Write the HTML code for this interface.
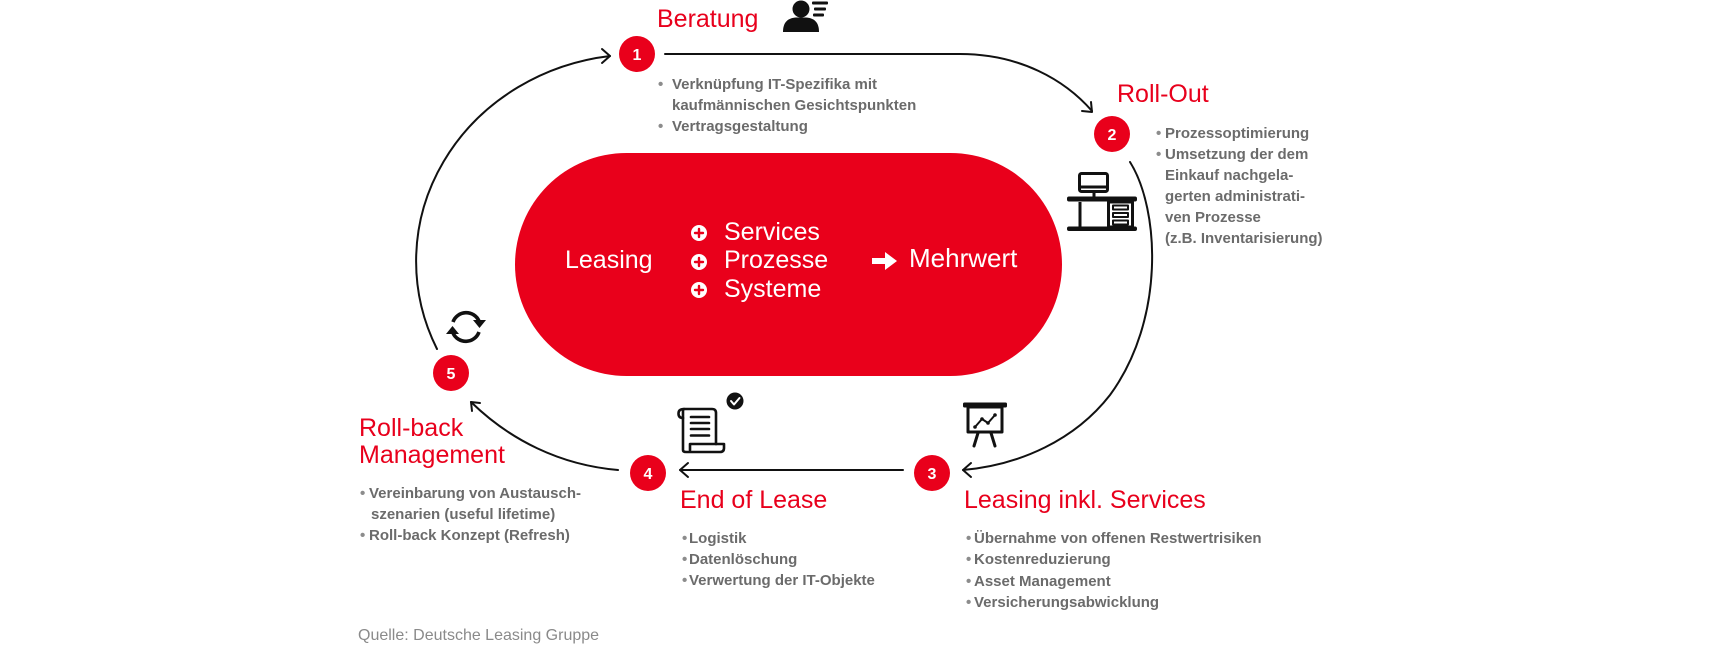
<!DOCTYPE html>
<html>
<head>
<meta charset="utf-8">
<style>
  html, body { margin: 0; padding: 0; background: #ffffff; }
  body { width: 1712px; height: 657px; overflow: hidden; }
  svg { display: block; }
  text { font-family: "Liberation Sans", "DejaVu Sans", sans-serif; }
  .h { fill: #e8001c; font-size: 25px; }
  .b { fill: #6b6b6b; font-size: 15px; font-weight: bold; }
  .dot { fill: #8c8c8c; font-size: 15px; font-weight: bold; }
  .w { fill: #ffffff; font-size: 25px; }
  .n { fill: #ffffff; font-size: 16px; font-weight: bold; }
</style>
</head>
<body>
<svg width="1712" height="657" viewBox="0 0 1712 657" xmlns="http://www.w3.org/2000/svg">
  <rect width="1712" height="657" fill="#ffffff"/>

  <!-- central pill -->
  <rect x="515" y="153" width="547" height="223" rx="111.5" ry="111.5" fill="#e9001b"/>

  <!-- connectors -->
  <g fill="none" stroke="#111" stroke-width="2" stroke-linecap="round" stroke-linejoin="round">
    <!-- 1 -> 2 -->
    <path d="M 665 54 L 960 54 C 1020 54, 1065 80, 1092 111"/>
    <path d="M 1082 111 L 1092 112 L 1091 102"/>
    <!-- 2 -> 3 -->
    <path d="M 1130 162 C 1160 210, 1165 320, 1110 395 C 1075 440, 1020 465, 963 470"/>
    <path d="M 971 463 L 963 470 L 971 477"/>
    <!-- 3 -> 4 -->
    <path d="M 903 470 L 680 470"/>
    <path d="M 688 463 L 680 470 L 688 477"/>
    <!-- 4 -> 5 -->
    <path d="M 618 470 C 560 465, 510 440, 471 402"/>
    <path d="M 480 403 L 471 402 L 472 411"/>
    <!-- 5 -> 1 -->
    <path d="M 437 349 A 222 207 0 0 1 610 56"/>
    <path d="M 602 49 L 610 56 L 602 63"/>
  </g>

  <!-- numbered circles -->
  <g fill="#e9001b">
    <circle cx="637" cy="54" r="18"/>
    <circle cx="1112" cy="134" r="18"/>
    <circle cx="932" cy="473" r="18"/>
    <circle cx="648" cy="473" r="18"/>
    <circle cx="451" cy="373" r="18"/>
  </g>
  <g class="n" text-anchor="middle">
    <text x="637" y="60" class="n">1</text>
    <text x="1112" y="140" class="n">2</text>
    <text x="932" y="479" class="n">3</text>
    <text x="648" y="479" class="n">4</text>
    <text x="451" y="379" class="n">5</text>
  </g>

  <!-- headings -->
  <text x="657" y="27" class="h">Beratung</text>
  <text x="1117" y="102" class="h">Roll-Out</text>
  <text x="964" y="508" class="h">Leasing inkl. Services</text>
  <text x="680" y="508" class="h">End of Lease</text>
  <text x="359" y="436" class="h">Roll-back</text>
  <text x="359" y="463" class="h">Management</text>

  <!-- Beratung bullets -->
  <text x="658" y="89" class="dot">•</text>
  <text x="672" y="89" class="b">Verknüpfung IT-Spezifika mit</text>
  <text x="672" y="110" class="b">kaufmännischen Gesichtspunkten</text>
  <text x="658" y="131" class="dot">•</text>
  <text x="672" y="131" class="b">Vertragsgestaltung</text>

  <!-- Roll-Out bullets -->
  <text x="1156" y="138" class="dot">•</text>
  <text x="1165" y="138" class="b">Prozessoptimierung</text>
  <text x="1156" y="159" class="dot">•</text>
  <text x="1165" y="159" class="b">Umsetzung der dem</text>
  <text x="1165" y="180" class="b">Einkauf nachgela-</text>
  <text x="1165" y="201" class="b">gerten administrati-</text>
  <text x="1165" y="222" class="b">ven Prozesse</text>
  <text x="1165" y="243" class="b">(z.B. Inventarisierung)</text>

  <!-- Leasing inkl. Services bullets -->
  <text x="966" y="543" class="dot">•</text>
  <text x="974" y="543" class="b">Übernahme von offenen Restwertrisiken</text>
  <text x="966" y="564" class="dot">•</text>
  <text x="974" y="564" class="b">Kostenreduzierung</text>
  <text x="966" y="586" class="dot">•</text>
  <text x="974" y="586" class="b">Asset Management</text>
  <text x="966" y="607" class="dot">•</text>
  <text x="974" y="607" class="b">Versicherungsabwicklung</text>

  <!-- End of Lease bullets -->
  <text x="682" y="543" class="dot">•</text>
  <text x="689" y="543" class="b">Logistik</text>
  <text x="682" y="564" class="dot">•</text>
  <text x="689" y="564" class="b">Datenlöschung</text>
  <text x="682" y="585" class="dot">•</text>
  <text x="689" y="585" class="b">Verwertung der IT-Objekte</text>

  <!-- Roll-back bullets -->
  <text x="360" y="498" class="dot">•</text>
  <text x="369" y="498" class="b">Vereinbarung von Austausch-</text>
  <text x="371" y="519" class="b">szenarien (useful lifetime)</text>
  <text x="360" y="540" class="dot">•</text>
  <text x="369" y="540" class="b">Roll-back Konzept (Refresh)</text>

  <!-- source -->
  <text x="358" y="640" style="fill:#8a8a8a;font-size:16px;">Quelle: Deutsche Leasing Gruppe</text>

  <!-- pill contents -->
  <text x="565" y="268" class="w">Leasing</text>
  <g fill="#ffffff">
    <circle cx="699" cy="233" r="8"/>
    <circle cx="699" cy="262" r="8"/>
    <circle cx="699" cy="290" r="8"/>
  </g>
  <g stroke="#e9001b" stroke-width="2.4" stroke-linecap="round">
    <path d="M 695 233 H 703 M 699 229 V 237"/>
    <path d="M 695 262 H 703 M 699 258 V 266"/>
    <path d="M 695 290 H 703 M 699 286 V 294"/>
  </g>
  <text x="724" y="240" class="w">Services</text>
  <text x="724" y="268" class="w">Prozesse</text>
  <text x="724" y="297" class="w">Systeme</text>
  <path d="M 872 258 H 885 V 252 L 897 261 L 885 270 V 264 H 872 Z" fill="#ffffff"/>
  <text x="909" y="267" class="w" style="font-size:26px;">Mehrwert</text>

  <!-- icon: person (Beratung) -->
  <g fill="#111">
    <circle cx="801" cy="9" r="8.5"/>
    <path d="M 783 32 C 783 22, 788 18, 796 17.5 L 806 17.5 C 814 18, 819 22, 819 32 Z"/>
    <rect x="812" y="1.5" width="16" height="3" rx="1"/>
    <rect x="814" y="7.5" width="12" height="3" rx="1"/>
    <rect x="813" y="13.5" width="11" height="3" rx="1"/>
  </g>

  <!-- icon: desk (Roll-Out) -->
  <g fill="none" stroke="#111" stroke-width="3" stroke-linejoin="round">
    <rect x="1079.5" y="173.5" width="28" height="18" rx="2"/>
    <line x1="1080" y1="187" x2="1107" y2="187"/>
    <line x1="1094" y1="192" x2="1094" y2="197"/>
    <line x1="1080" y1="202" x2="1080" y2="228"/>
    <rect x="1108.5" y="202" width="24" height="25"/>
    <rect x="1113" y="205.5" width="15" height="4" stroke-width="2"/>
    <rect x="1113" y="213" width="15" height="4" stroke-width="2"/>
    <rect x="1113" y="220.5" width="15" height="4" stroke-width="2"/>
  </g>
  <g fill="#111">
    <rect x="1067" y="196.5" width="70" height="5" rx="2"/>
    <rect x="1067" y="226.5" width="70" height="4.5" rx="2"/>
  </g>

  <!-- icon: presentation board (Leasing inkl. Services) -->
  <g fill="none" stroke="#111" stroke-width="3" stroke-linejoin="round" stroke-linecap="round">
    <rect x="968" y="407" width="34" height="25"/>
    <line x1="978" y1="433" x2="974" y2="446"/>
    <line x1="991" y1="433" x2="995" y2="446"/>
    <polyline points="975,427 982,419 988,423 995,415" stroke-width="2"/>
  </g>
  <rect x="963" y="402.5" width="44" height="5" rx="1.5" fill="#111"/>
  <g fill="#111">
    <circle cx="975" cy="427" r="1.8"/>
    <circle cx="982" cy="419" r="1.8"/>
    <circle cx="988" cy="423" r="1.8"/>
    <circle cx="995" cy="415" r="1.8"/>
  </g>

  <!-- icon: scroll (End of Lease) -->
  <g fill="none" stroke="#111" stroke-width="2.6" stroke-linejoin="round" stroke-linecap="round">
    <path d="M 684 409 H 712 Q 716 409 716 413 V 444"/>
    <path d="M 684 409 Q 678.5 409 678.5 413.5 Q 678.5 418 683 418"/>
    <path d="M 683 410 V 450 Q 683 452 686 452 H 720 Q 724 452 724 448 V 444 H 690 V 450"/>
    <line x1="691" y1="417" x2="709" y2="417"/>
    <line x1="691" y1="423" x2="709" y2="423"/>
    <line x1="691" y1="429" x2="709" y2="429"/>
    <line x1="691" y1="435.5" x2="709" y2="435.5"/>
  </g>
  <circle cx="735" cy="401" r="8.5" fill="#111"/>
  <polyline points="731,401 734,404.5 739.5,398" fill="none" stroke="#fff" stroke-width="2" stroke-linecap="round" stroke-linejoin="round"/>

  <!-- icon: refresh (Roll-back) -->
  <g fill="none" stroke="#111" stroke-width="3.6" stroke-linecap="butt">
    <path d="M 453 322 A 14 14 0 0 1 479 321"/>
    <path d="M 479 332 A 14 14 0 0 1 453 333"/>
  </g>
  <g fill="#111">
    <path d="M 473 320 L 486 320 L 479.5 328 Z"/>
    <path d="M 446 334 L 459 334 L 452.5 326 Z"/>
  </g>
</svg>
</body>
</html>
